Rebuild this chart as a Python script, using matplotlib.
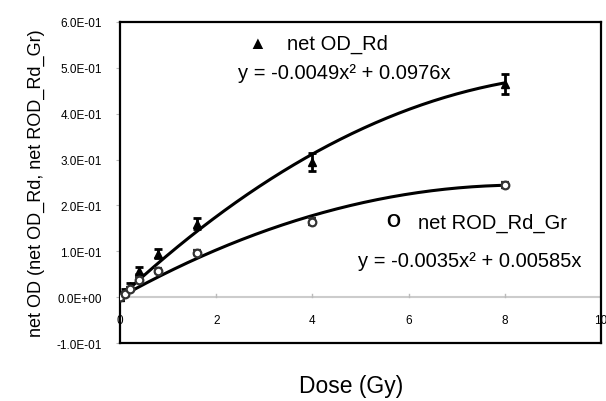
import numpy as np
import matplotlib
matplotlib.use("Agg")
import matplotlib.pyplot as plt

plt.rcParams['font.family'] = ['Liberation Sans', 'DejaVu Sans']

# --- datos ---
dosis = [0, 0.1, 0.2, 0.4, 0.8, 1.6, 4, 8]
od_rd = [0.0, 0.012, 0.025, 0.058, 0.095, 0.160, 0.295, 0.465]
od_rd_err = [0.006, 0.005, 0.005, 0.008, 0.010, 0.012, 0.020, 0.022]
rod_gr = [0.0, 0.008, 0.018, 0.038, 0.058, 0.097, 0.165, 0.245]
rod_gr_err = [0.004, 0.004, 0.004, 0.005, 0.006, 0.006, 0.008, 0.006]

# coeficientes de ajuste (y = a*x^2 + b*x)
ajuste_rd = (-0.0049, 0.0976)
ajuste_gr = (-0.0035, 0.0585)

yticks = [-0.1, 0.0, 0.1, 0.2, 0.3, 0.4, 0.5, 0.6]
ytick_labels = ["-1.0E-01", "0.0E+00", "1.0E-01", "2.0E-01", "3.0E-01",
                "4.0E-01", "5.0E-01", "6.0E-01"]
xticks = [0, 2, 4, 6, 8, 10]

fig = plt.figure(figsize=(6.06, 4.02), dpi=100)
ax = fig.add_axes([0.198, 0.144, 0.794, 0.799])

xs = np.linspace(0, max(dosis), 200)
for (a, b) in (ajuste_rd, ajuste_gr):
    ax.plot(xs, a * xs**2 + b * xs, color='black', lw=2.2, zorder=3)

ax.errorbar(dosis, od_rd, yerr=od_rd_err, fmt='^', color='black', ms=6,
            capsize=3, elinewidth=2, capthick=2, zorder=4)
ax.errorbar(dosis, rod_gr, yerr=rod_gr_err, fmt='o', color='#333333',
            mfc='white', ms=5.5, mew=1.6, capsize=3, elinewidth=2,
            capthick=2, zorder=4)

ax.axhline(0, color='#cccccc', lw=1.5, zorder=1)

ax.set_xlim(0, 10)
ax.set_ylim(-0.1, 0.6)
ax.set_yticks(yticks)
ax.set_yticklabels(ytick_labels, fontsize=8.5)
ax.tick_params(axis='y', length=3, color='#bbbbbb', pad=10)

# etiquetas del eje x justo debajo de la línea cero
ax.set_xticks([])
for xv in xticks:
    ax.text(xv, -0.05, str(xv), ha='center', va='center', fontsize=8.5)
    ax.plot([xv, xv], [0, 0.006], color='#bbbbbb', lw=1, zorder=1)

for s in ax.spines.values():
    s.set_linewidth(1.6)

ax.set_ylabel("net OD (net OD_Rd, net ROD_Rd_Gr)", fontsize=13, labelpad=8)
ax.set_xlabel("Dose (Gy)", fontsize=16.5)
ax.xaxis.set_label_coords(0.48, -0.095)

ax.text(2.85, 0.554, "\u25B2", fontsize=13, ha='center', va='center')
ax.text(3.47, 0.554, "net OD_Rd", fontsize=14.5, ha='left', va='center')
ax.text(2.45, 0.490, "y = -0.0049x\u00b2 + 0.0976x", fontsize=14.5,
        ha='left', va='center')

ax.text(5.68, 0.164, "O", fontsize=13, ha='center', va='center',
        fontweight='bold')
ax.text(6.2, 0.164, "net ROD_Rd_Gr", fontsize=14.5, ha='left', va='center')
ax.text(4.95, 0.079, "y = -0.0035x\u00b2 + 0.00585x", fontsize=14.5,
        ha='left', va='center')

fig.savefig("out.png", dpi=100)
